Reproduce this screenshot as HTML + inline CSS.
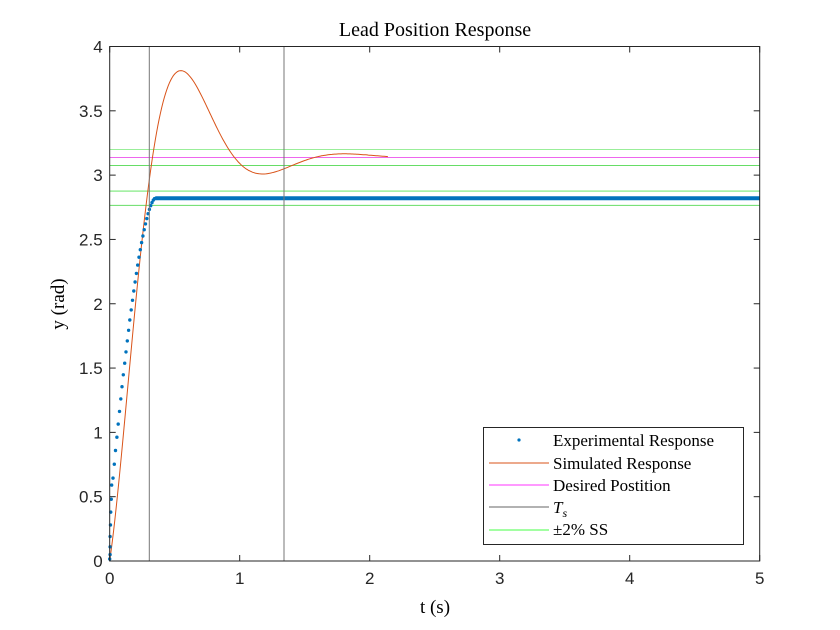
<!DOCTYPE html>
<html><head><meta charset="utf-8"><style>
html,body{margin:0;padding:0;background:#fff;}
svg{display:block;}
.tk{font-family:"Liberation Sans",sans-serif;font-size:17px;fill:#262626;}
.sf{font-family:"Liberation Serif",serif;fill:#000;}
</style></head><body>
<svg id="s" width="840" height="630" viewBox="0 0 840 630" xmlns="http://www.w3.org/2000/svg">
<rect width="840" height="630" fill="#fff"/>
<g id="plot"></g>
<text class="sf" x="435" y="36" font-size="20" text-anchor="middle">Lead Position Response</text>
<text class="sf" x="435" y="613" font-size="19" text-anchor="middle">t (s)</text>
<text class="sf" x="0" y="0" font-size="19" text-anchor="middle" transform="translate(64,304) rotate(-90)">y (rad)</text>
<g id="ticks"></g>
<g>
<rect x="483.5" y="427.5" width="260" height="117" fill="#fff" stroke="#262626" stroke-width="1"/>
<circle cx="519" cy="440" r="1.6" fill="#0072BD"/>
<text class="sf" x="553" y="446" font-size="17">Experimental Response</text>
<line x1="489" y1="463" x2="549" y2="463" stroke="#D95319" stroke-width="1"/>
<text class="sf" x="553" y="469" font-size="17">Simulated Response</text>
<line x1="489" y1="485" x2="549" y2="485" stroke="#ff33ff" stroke-width="1"/>
<text class="sf" x="553" y="491" font-size="17">Desired Postition</text>
<line x1="489" y1="507" x2="549" y2="507" stroke="#666" stroke-width="1"/>
<text class="sf" x="553" y="513" font-size="17" font-style="italic">T<tspan font-size="12" dy="4">s</tspan></text>
<line x1="489" y1="530" x2="549" y2="530" stroke="#44ff44" stroke-width="1"/>
<text class="sf" x="553" y="535" font-size="17">±2% SS</text>
</g>
</svg>
<script>
var L=109.7,R=759.7,T=46.5,B=561,sx=(R-L)/5,sy=(B-T)/4;
function X(t){return L+t*sx}function Y(v){return B-v*sy}
var ns="http://www.w3.org/2000/svg",p=document.getElementById("plot"),h="";
h+='<rect x="'+L+'" y="'+T+'" width="'+(R-L)+'" height="'+(B-T)+'" fill="#fff"/>';
function hl(v,c,w){h+='<line x1="'+L+'" x2="'+R+'" y1="'+Y(v)+'" y2="'+Y(v)+'" stroke="'+c+'" stroke-width="'+(w||1)+'"/>';}
hl(3.199,"#99ee99");hl(3.075,"#66dd66");hl(2.876,"#99ee99",1.5);hl(2.765,"#66dd66");
hl(3.137,"#ee66ee");
// sim
var d="";for(var i=0;i<=214;i++){var t=i/100;var y=3.14-Math.exp(-2.6*t)*(3.14*Math.cos(5*t)+0.24*Math.sin(5*t));d+=(i?"L":"M")+X(t).toFixed(1)+" "+Y(y).toFixed(1);}
h+='<path d="'+d+'" fill="none" stroke="#D95319" stroke-width="1"/>';
// exp
var ys=[0.016,0.05,0.11,0.19,0.28,0.38,0.48,0.59],ts=[0,0.003,0.003,0.003,0.006,0.008,0.012,0.015];
for(var i=0;i<ys.length;i++)h+='<circle cx="'+X(ts[i])+'" cy="'+Y(ys[i])+'" r="1.7" fill="#0072BD"/>';
for(var t=0.025;t<0.35;t+=0.01){var y=2.82-2.23*Math.pow((0.35-t)/0.33,1.63);h+='<circle cx="'+X(t).toFixed(1)+'" cy="'+Y(y).toFixed(1)+'" r="1.7" fill="#0072BD"/>';}
h+='<line x1="'+X(0.35)+'" x2="'+R+'" y1="'+Y(2.82)+'" y2="'+Y(2.82)+'" stroke="#0072BD" stroke-width="4"/>';
h+='<line x1="149.3" x2="149.3" y1="'+T+'" y2="'+B+'" stroke="#777" stroke-width="1"/>';
h+='<line x1="284" x2="284" y1="'+T+'" y2="'+B+'" stroke="#777" stroke-width="1"/>';
h+='<rect x="'+L+'" y="'+T+'" width="'+(R-L)+'" height="'+(B-T)+'" fill="none" stroke="#262626" stroke-width="1"/>';
p.innerHTML=h;
var g="";for(var i=0;i<=5;i++){var x=X(i);g+='<line x1="'+x+'" x2="'+x+'" y1="'+B+'" y2="'+(B-6)+'" stroke="#262626"/><line x1="'+x+'" x2="'+x+'" y1="'+T+'" y2="'+(T+6)+'" stroke="#262626"/><text class="tk" x="'+x+'" y="'+(B+23)+'" text-anchor="middle">'+i+'</text>';}
for(var i=0;i<=8;i++){var v=i/2,y=Y(v);g+='<line x1="'+L+'" x2="'+(L+6)+'" y1="'+y+'" y2="'+y+'" stroke="#262626"/><line x1="'+R+'" x2="'+(R-6)+'" y1="'+y+'" y2="'+y+'" stroke="#262626"/><text class="tk" x="'+(L-7)+'" y="'+(y+6)+'" text-anchor="end">'+v+'</text>';}
document.getElementById("ticks").innerHTML=g;
</script>
</body></html>
